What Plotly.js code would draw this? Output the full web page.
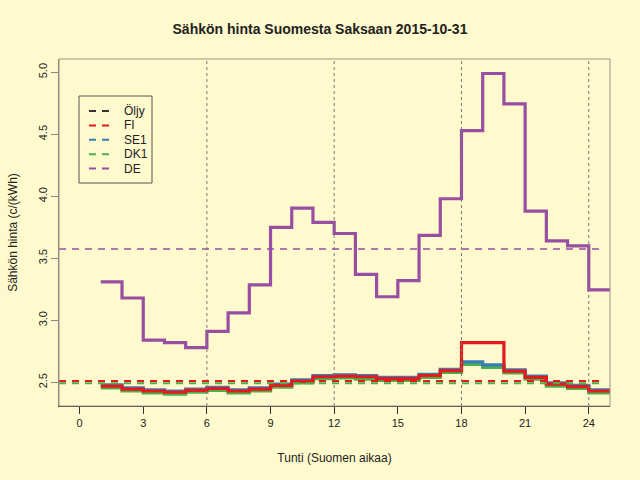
<!DOCTYPE html>
<html>
<head>
<meta charset="utf-8">
<script src="https://cdn.plot.ly/plotly-3.0.1.min.js"></script>
<style>
  html, body { margin: 0; padding: 0; background: #fffacd; }
  #chart { width: 640px; height: 480px; }
</style>
</head>
<body>
<div id="chart"></div>
<script>
// hourly prices, c/kWh (hour 1 = 00-01 Finnish time)
const hours = [1, 2, 3, 4, 5, 6, 7, 8, 9, 10, 11, 12, 13, 14, 15, 16, 17, 18, 19, 20, 21, 22, 23, 24];

const priceFI  = [2.47, 2.445, 2.43, 2.42, 2.435, 2.45, 2.43, 2.445, 2.475, 2.51, 2.545, 2.55,
                  2.545, 2.53, 2.53, 2.555, 2.595, 2.82, 2.82, 2.59, 2.54, 2.485, 2.465, 2.43];
const priceSE1 = [2.48, 2.455, 2.44, 2.43, 2.445, 2.46, 2.44, 2.455, 2.485, 2.52, 2.555, 2.56,
                  2.555, 2.54, 2.54, 2.565, 2.605, 2.665, 2.64, 2.60, 2.55, 2.495, 2.475, 2.44];
const priceDK1 = [2.455, 2.43, 2.415, 2.405, 2.42, 2.435, 2.415, 2.43, 2.46, 2.495, 2.53, 2.535,
                  2.525, 2.515, 2.515, 2.54, 2.58, 2.645, 2.62, 2.575, 2.525, 2.47, 2.45, 2.415];
const priceDE  = [3.31, 3.18, 2.84, 2.82, 2.78, 2.91, 3.06, 3.285, 3.75, 3.905, 3.79, 3.70,
                  3.37, 3.19, 3.32, 3.685, 3.98, 4.53, 4.99, 4.745, 3.88, 3.64, 3.60, 3.245];

// daily averages (dashed lines)
const seriesNames = ['Öljy', 'FI', 'SE1', 'DK1', 'DE'];
const seriesAvg   = [null, 2.51, 2.51, 2.492, 3.575];
const seriesColor = ['#333333', '#e41a1c', '#377eb8', '#4daf4a', '#984ea3'];

const dayMarks = [6, 12, 18, 24];
const xTicks = [0, 3, 6, 9, 12, 15, 18, 21, 24];

const txt = '#222222';
const fam = 'Liberation Sans, Arial, sans-serif';
const font = { family: fam, size: 12, color: txt };

// plot area in pixels, used for placing the R-style legend box
const M = { l: 59, r: 30, t: 59, b: 74 };
const PW = 640 - M.l - M.r, PH = 480 - M.t - M.b;
const px = v => (v - M.l) / PW;
const py = v => (480 - M.b - v) / PH;

// step line: last hour is held until the end of hour 24
function stepTrace(vals, color) {
  return {
    x: hours.concat([hours[hours.length - 1] + 1]),
    y: vals.concat([vals[vals.length - 1]]),
    mode: 'lines',
    line: { shape: 'hv', color, width: 3.2 },
    showlegend: false,
    hoverinfo: 'skip'
  };
}

const data = [
  stepTrace(priceDE, seriesColor[4]),
  stepTrace(priceDK1, seriesColor[3]),
  stepTrace(priceSE1, seriesColor[2]),
  stepTrace(priceFI, seriesColor[1])
];

const shapes = [];
const annotations = [];

dayMarks.forEach(d => {
  shapes.push({
    type: 'line', xref: 'x', yref: 'paper', x0: d, x1: d, y0: 0, y1: 1,
    line: { color: '#777777', width: 1, dash: 'dot' }
  });
});
// mean lines: DK1, SE1, FI, then DE on top
[3, 2, 1, 4].forEach(i => {
  if (seriesAvg[i] == null) return;
  shapes.push({
    type: 'line', xref: 'paper', yref: 'y', x0: 0, x1: 0.99, y0: seriesAvg[i], y1: seriesAvg[i],
    line: { color: seriesColor[i], width: 2, dash: '7px,6px' },
    opacity: i === 4 ? 0.75 : 1
  });
});
// plot box
shapes.push({
  type: 'rect', xref: 'paper', yref: 'paper', x0: 0, x1: 1, y0: 0, y1: 1,
  line: { color: '#9a9484', width: 1 }
});

// legend like R's legend(): box, dashed samples, labels
shapes.push({
  type: 'rect', xref: 'paper', yref: 'paper',
  x0: px(79), x1: px(152), y0: py(183), y1: py(96),
  line: { color: '#555555', width: 1 }
});
seriesNames.forEach((name, i) => {
  const yy = 111 + i * 14.4;
  shapes.push({
    type: 'line', xref: 'paper', yref: 'paper',
    x0: px(89), x1: px(109), y0: py(yy), y1: py(yy),
    line: { color: seriesColor[i], width: 2, dash: '7px,6px' }
  });
  annotations.push({
    xref: 'paper', yref: 'paper', x: px(122), y: py(yy),
    xanchor: 'left', yanchor: 'middle', showarrow: false,
    text: name, font: { family: fam, size: 12, color: txt }
  });
});

const layout = {
  width: 640,
  height: 480,
  font,
  paper_bgcolor: '#fffacd',
  plot_bgcolor: '#fffacd',
  margin: { l: M.l, r: M.r, t: M.t, b: M.b, pad: 0 },
  title: {
    text: '<b>Sähkön hinta Suomesta Saksaan 2015-10-31</b>',
    font: { family: fam, size: 14, color: txt },
    x: 0.5, xanchor: 'center', y: 0.94, yanchor: 'middle'
  },
  showlegend: false,
  xaxis: {
    range: [-0.97, 25],
    tickmode: 'array', tickvals: xTicks,
    ticks: 'outside', ticklen: 7, tickcolor: '#333333', tickwidth: 1,
    showline: true, linecolor: '#333333', linewidth: 1,
    showgrid: false, zeroline: false,
    tickfont: { size: 11, color: txt },
    title: { text: 'Tunti (Suomen aikaa)', font: { size: 12, color: txt }, standoff: 25 }
  },
  yaxis: {
    range: [2.309, 5.107],
    tickmode: 'array', tickvals: [2.5, 3.0, 3.5, 4.0, 4.5, 5.0],
    ticktext: ['2.5', '3.0', '3.5', '4.0', '4.5', '5.0'],
    tickangle: -90,
    ticks: 'outside', ticklen: 7, tickcolor: '#888888', tickwidth: 1,
    showline: true, linecolor: '#8a8478', linewidth: 1,
    showgrid: false, zeroline: false,
    tickfont: { size: 11, color: txt },
    title: { text: 'Sähkön hinta (c/(kWh)', font: { size: 12, color: txt }, standoff: 16 }
  },
  shapes,
  annotations
};

Plotly.newPlot('chart', data, layout, { staticPlot: true, displayModeBar: false });
</script>
</body>
</html>
